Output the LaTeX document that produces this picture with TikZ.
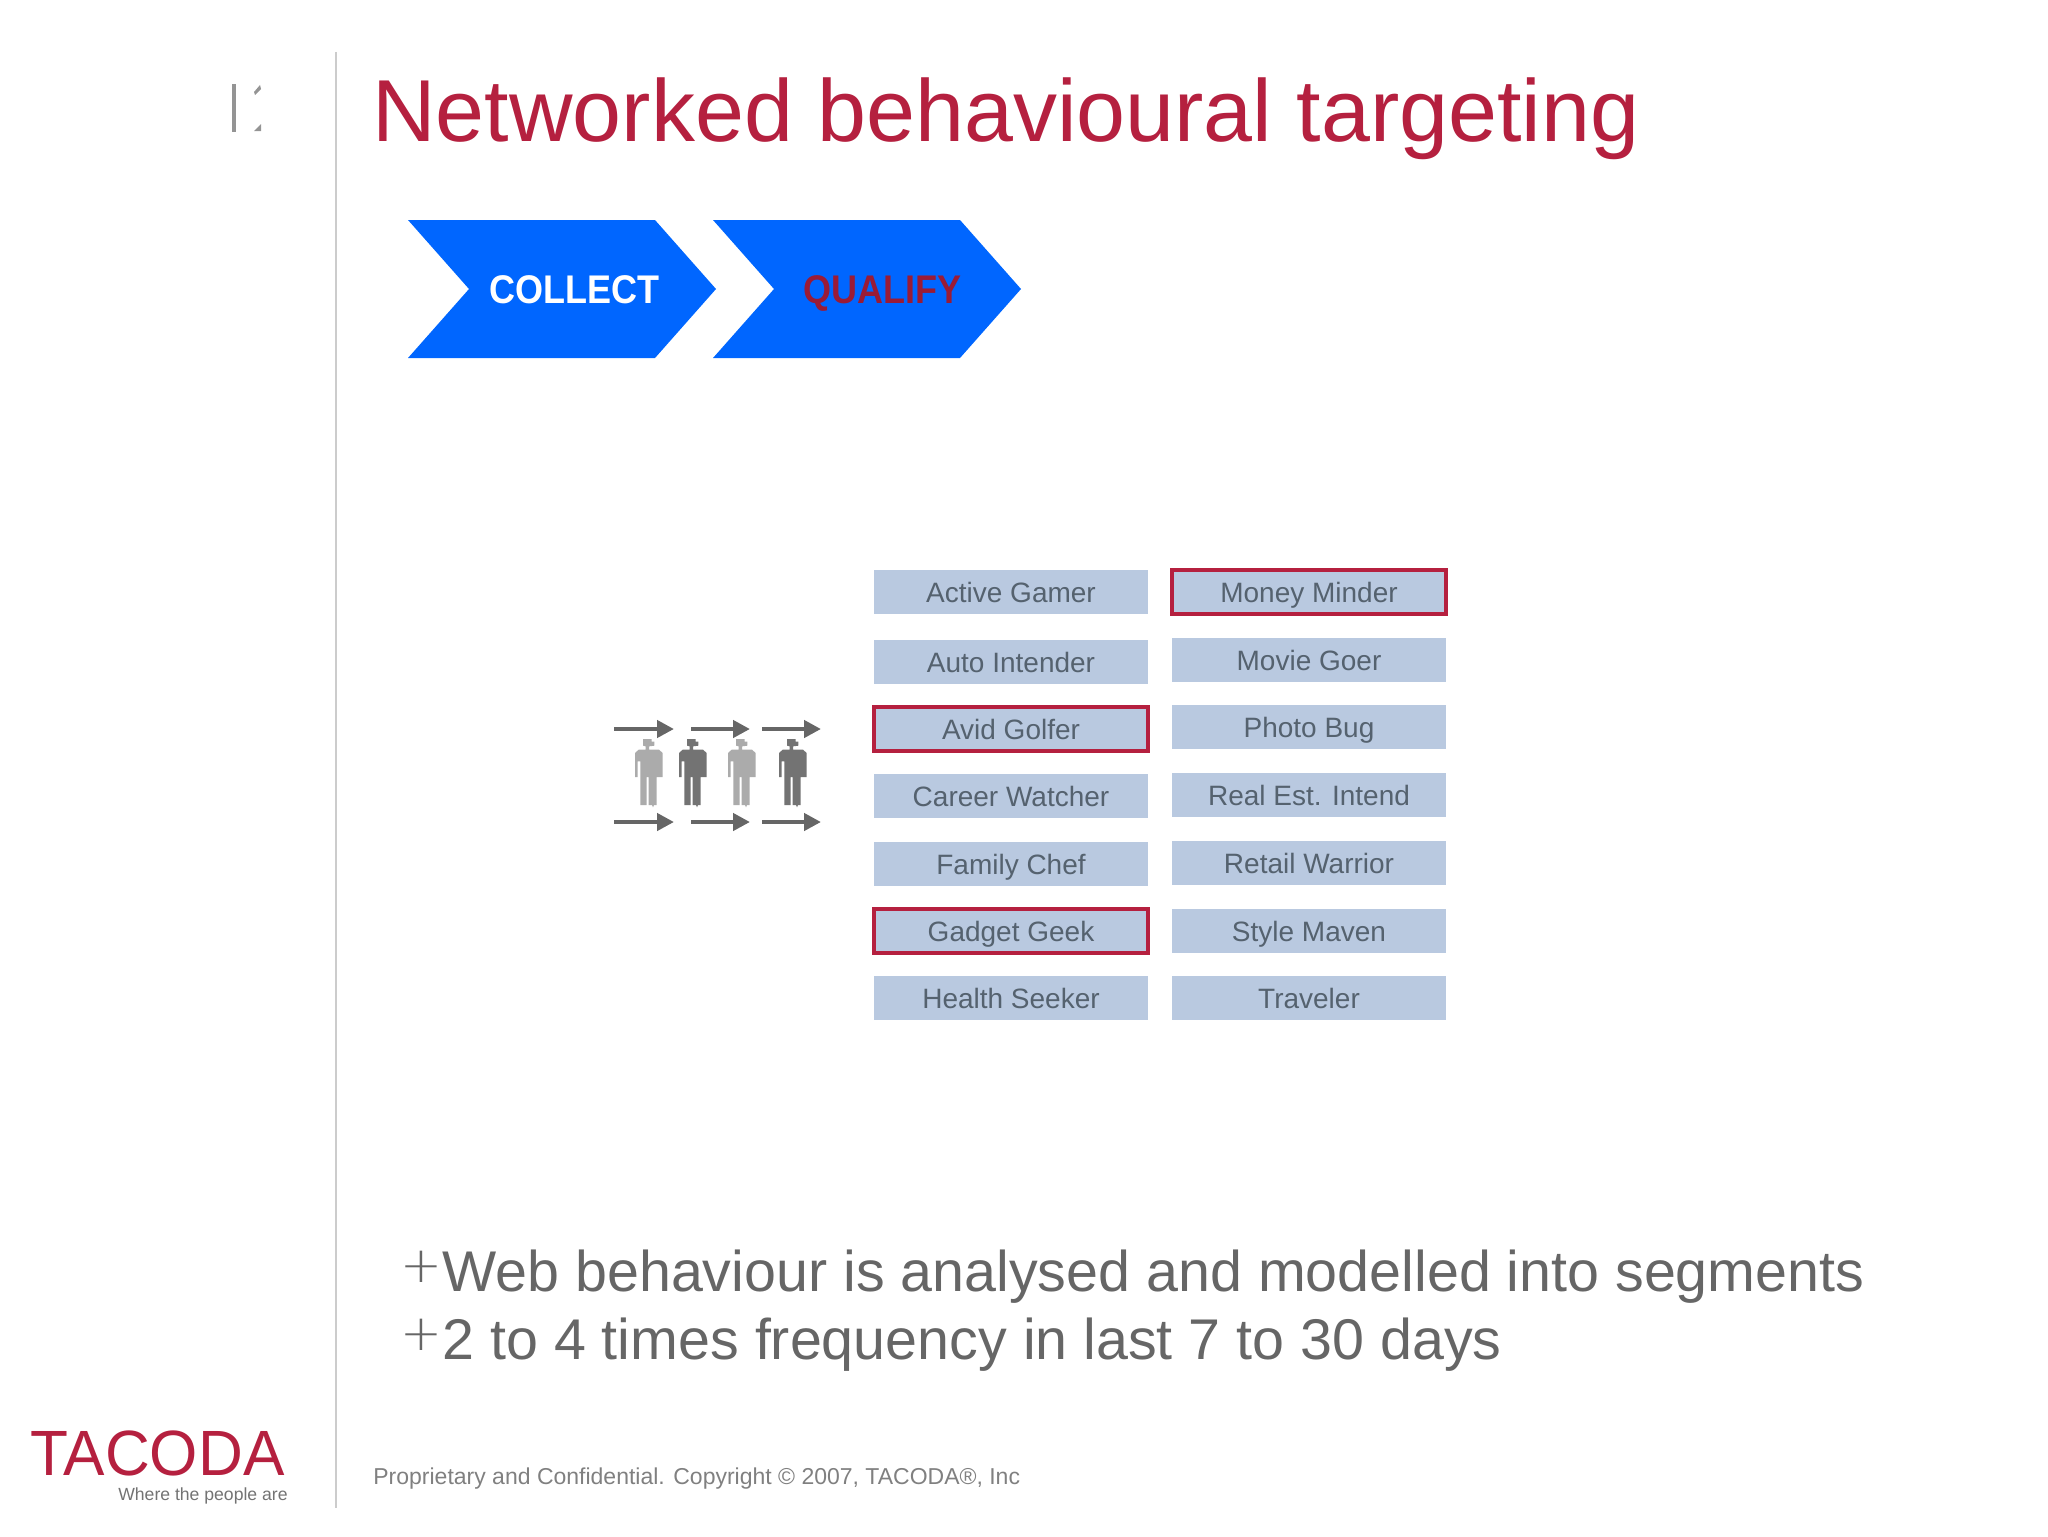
\documentclass[tikz,border=0pt]{standalone}
\usepackage{fontspec}
\setmainfont{Liberation Sans}
\newfontfamily\thinfont{DejaVu Sans ExtraLight}
\usetikzlibrary{arrows.meta}

\definecolor{tacred}{HTML}{B5203F}
\definecolor{chevblue}{HTML}{0066FF}
\definecolor{boxblue}{HTML}{B9C9E0}
\definecolor{boxtext}{HTML}{55626F}
\definecolor{bodygray}{HTML}{666666}
\newcommand{\fsize}[1]{\fontsize{#1}{#1}\selectfont}

\tikzset{
  segbox/.style={fill=boxblue, text=boxtext, minimum width=137pt, minimum height=22pt, inner sep=0pt,
    text height=12pt, text depth=1.4pt, font=\fsize{14}},
  hotbox/.style={segbox, draw=tacred, line width=1.7pt},
  chevlabel/.style={inner sep=0pt, text height=14.3pt, text depth=0pt, font=\fsize{20}\bfseries},
  flowarrow/.style={draw=bodygray, line width=2.3pt, -{Triangle[length=8.5pt,width=8.5pt]}},
  person/.pic={
    \begin{scope}[xscale=1/3,yscale=1/3]
    \fill[#1] (24,0) -- (50,0) -- (50,8) -- (58,8) -- (58,20) -- (42,22) -- (42,32) -- (72,32)
      -- (83,42) -- (83,114) -- (65,114) -- (65,198) -- (57,198) -- (54,205) -- (51,198) -- (41,198) -- (41,114)
      -- (35,114) -- (35,198) -- (16,198) -- (16,67) -- (8,67) -- (8,114) -- (0,114)
      -- (0,42) -- (11,32) -- (32,32) -- (32,22) -- (24,20) -- cycle;
    \end{scope}
  }
}

\begin{document}
\begin{tikzpicture}[x=0.5pt,y=-0.5pt]
\useasboundingbox (0,0) rectangle (2048,1536);

% side rule and page mark
\draw[black!20, line width=1pt] (336,52) -- (336,1508);
\fill[black!42] (232,84) rectangle (236,132);
\fill[black!42] (254,92) -- (260,85) -- (261,89) -- (255,95) -- cycle;
\fill[black!42] (254,131) -- (261,124) -- (261,131) -- cycle;

\node[anchor=base west, inner sep=0pt, text=tacred, font=\fsize{44}] (title) at (372,141) {Networked behavioural targeting};

% chevrons
\fill[chevblue] (408,220) -- (655,220) -- (716,289) -- (655,358) -- (408,358) -- (469,289) -- cycle;
\fill[chevblue] (713,220) -- (960,220) -- (1021,289) -- (960,358) -- (713,358) -- (774,289) -- cycle;
\node[chevlabel, text=white] (collect) at (574,289) {\scalebox{0.9}[1]{COLLECT}};
\node[chevlabel, text=tacred!85!black] (qualify) at (882,289) {\scalebox{0.9}[1]{QUALIFY}};

% segments
\foreach \name/\txt/\ypos in {a/Active Gamer/592, b/Auto Intender/662, d/Career Watcher/796, e/Family Chef/864, g/Health Seeker/998}
  \node[segbox] (left\name) at (1011,\ypos) {\txt};
\node[hotbox] (leftc) at (1011,729) {Avid Golfer};
\node[hotbox] (leftf) at (1011,931) {Gadget Geek};

\node[hotbox] (righta) at (1309,592) {Money Minder};
\foreach \name/\txt/\ypos in {b/Movie Goer/660, c/Photo Bug/727, d/Real Est. Intend/795, e/Retail Warrior/863, f/Style Maven/931, g/Traveler/998}
  \node[segbox] (right\name) at (1309,\ypos) {\txt};

% people
\foreach \px/\shade in {635/black!33, 679/black!55, 728/black!33, 779/black!55}
  \pic at (\px,739) {person=\shade};

% arrows
\foreach \i/\xa/\xb in {1/614/674, 2/691/750, 3/762/821} {
  \coordinate (topa\i) at (\xa,729);
  \coordinate (topb\i) at (\xb,729);
  \coordinate (bota\i) at (\xa,822);
  \coordinate (botb\i) at (\xb,822);
  \draw[flowarrow] (topa\i) -- (topb\i);
  \draw[flowarrow] (bota\i) -- (botb\i);
}

% bullets
\node[anchor=base west, inner sep=0pt, text=bodygray, font=\fsize{25}\thinfont] (plusa) at (400,1282) {+};
\node[anchor=base west, inner sep=0pt, text=bodygray, font=\fsize{25}\thinfont] (plusb) at (400,1350) {+};
\node[anchor=base west, inner sep=0pt, text=bodygray, font=\fsize{28.7}] (linea) at (442,1291) {Web behaviour is analysed and modelled into segments};
\node[anchor=base west, inner sep=0pt, text=bodygray, font=\fsize{28.7}] (lineb) at (442,1359) {2 to 4 times frequency in last 7 to 30 days};

\node[anchor=base west, inner sep=0pt, text=black!50, font=\fsize{11.5}] (footer) at (373,1484) {Proprietary and Confidential. Copyright © 2007, TACODA®, Inc};

% logo
\node[anchor=base west, inner sep=0pt, text=tacred, font=\fsize{32}] (logo) at (30,1475) {\scalebox{0.97}[1]{TACODA}};
\node[anchor=base east, inner sep=0pt, text=black!55, font=\fsize{8.8}] (tagline) at (288,1500) {Where the people are};
\end{tikzpicture}
\end{document}
